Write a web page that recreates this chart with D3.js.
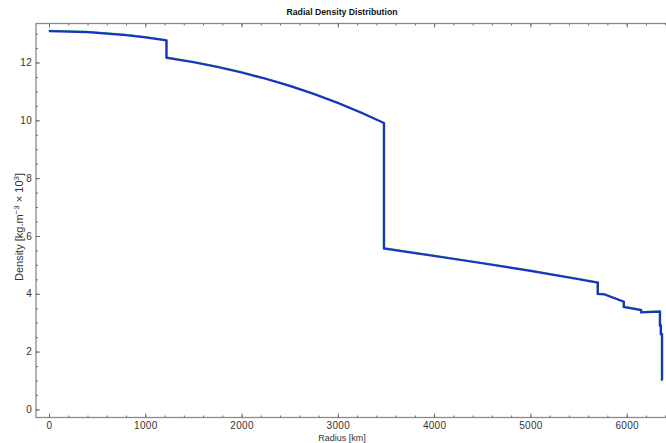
<!DOCTYPE html>
<html>
<head>
<meta charset="utf-8">
<script src="https://cdn.jsdelivr.net/npm/d3@7"></script>
<style>
    body { margin: 0; background: #fff; }
    svg { display: block; font-family: "Liberation Sans", Arial, sans-serif; }
</style>
</head>
<body>
<div id="chart"></div>
<script>
// Radius in km and density (x 10^3 kg/m^3)
const radius = [0, 400, 800, 1000, 1221.5, 1221.5, 1500, 1750, 2000, 2250, 2500, 2750, 3000, 3250, 3480,
    3480, 4000, 4500, 5000, 5500, 5701, 5701, 5771, 5771, 5971, 5971, 6151, 6151, 6346.6, 6346.6, 6356, 6356, 6368, 6368, 6371];
const density = [13.089, 13.054, 12.949, 12.871, 12.764, 12.166, 12.010, 11.845, 11.655, 11.437, 11.191, 10.913, 10.602, 10.255, 9.904,
    5.566, 5.307, 5.055, 4.790, 4.504, 4.381, 3.992, 3.980, 3.976, 3.724, 3.543, 3.436, 3.360, 3.381, 2.9, 2.9, 2.6, 2.6, 1.02, 1.02];
const xTicks = [0, 1000, 2000, 3000, 4000, 5000, 6000];
const yTicks = [0, 2, 4, 6, 8, 10, 12];

const width = 666, height = 443;
const plotLeft = 36, plotTop = 23.5, plotBottom = 417.5, plotRight = 670;

const svg = d3.select("#chart").append("svg")
    .attr("width", width)
    .attr("height", height);

const x = d3.scaleLinear().domain([-135, 6450]).range([plotLeft, plotRight]);
const y = d3.scaleLinear().domain([-0.28, 13.35]).range([plotBottom, plotTop]);

const data = radius.map((r, i) => ({r: r, d: density[i]}));

// title
svg.append("text")
    .attr("x", 342).attr("y", 15)
    .attr("text-anchor", "middle")
    .style("font-size", "8.7px").style("font-weight", "bold")
    .attr("fill", "#111")
    .text("Radial Density Distribution");

// frame
svg.append("rect")
    .attr("x", plotLeft).attr("y", plotTop)
    .attr("width", plotRight - plotLeft).attr("height", plotBottom - plotTop)
    .attr("fill", "none").attr("stroke", "#8a8a8a").attr("stroke-width", 1.3);

const axisColor = "#6e6e6e";
const minorX = d3.range(0, 6401, 200);
const minorY = d3.range(0, 13.01, 0.5);

// bottom axis
svg.append("g").attr("transform", `translate(0,${plotBottom})`)
    .call(d3.axisBottom(x).tickValues(xTicks).tickSize(-4).tickPadding(4).tickFormat(d3.format("d")));
svg.append("g").attr("transform", `translate(0,${plotBottom})`)
    .call(d3.axisBottom(x).tickValues(minorX).tickSize(-2).tickFormat(""));
// top mirrored ticks
svg.append("g").attr("transform", `translate(0,${plotTop})`)
    .call(d3.axisTop(x).tickValues(xTicks).tickSize(-4).tickFormat(""));
svg.append("g").attr("transform", `translate(0,${plotTop})`)
    .call(d3.axisTop(x).tickValues(minorX).tickSize(-2).tickFormat(""));
// left axis
svg.append("g").attr("transform", `translate(${plotLeft},0)`)
    .call(d3.axisLeft(y).tickValues(yTicks).tickSize(-4).tickPadding(4).tickFormat(d3.format("d")));
svg.append("g").attr("transform", `translate(${plotLeft},0)`)
    .call(d3.axisLeft(y).tickValues(minorY).tickSize(-2).tickFormat(""));

svg.selectAll(".domain").remove();
svg.selectAll(".tick line").attr("stroke", axisColor);
svg.selectAll(".tick text")
    .style("font-size", "10px")
    .style("letter-spacing", "0.3px")
    .attr("fill", "#333");

// axis titles
svg.append("text")
    .attr("x", 342).attr("y", 441)
    .attr("text-anchor", "middle")
    .style("font-size", "9px").attr("fill", "#333")
    .text("Radius [km]");

const yl = svg.append("text")
    .attr("transform", "translate(23,227) rotate(-90)")
    .attr("text-anchor", "middle")
    .style("font-size", "11px").attr("fill", "#333");
yl.append("tspan").text("Density [kg.m");
yl.append("tspan").attr("dy", -4).style("font-size", "8px").text("\u22123");
yl.append("tspan").attr("dy", 4).text(" \u00d7 10");
yl.append("tspan").attr("dy", -4).style("font-size", "8px").text("3");
yl.append("tspan").attr("dy", 4).text("]");

// density curve: faint green under-trace and blue line
const line = d3.line().x(d => x(d.r)).y(d => y(d.d));
svg.append("path")
    .datum(data)
    .attr("d", line)
    .attr("transform", "translate(-0.5,-0.5)")
    .attr("fill", "none")
    .attr("stroke", "#3cb860")
    .attr("stroke-width", 1.8);
svg.append("path")
    .datum(data)
    .attr("d", line)
    .attr("fill", "none")
    .attr("stroke", "#1d32c4")
    .attr("stroke-width", 2.2);
</script>
</body>
</html>
